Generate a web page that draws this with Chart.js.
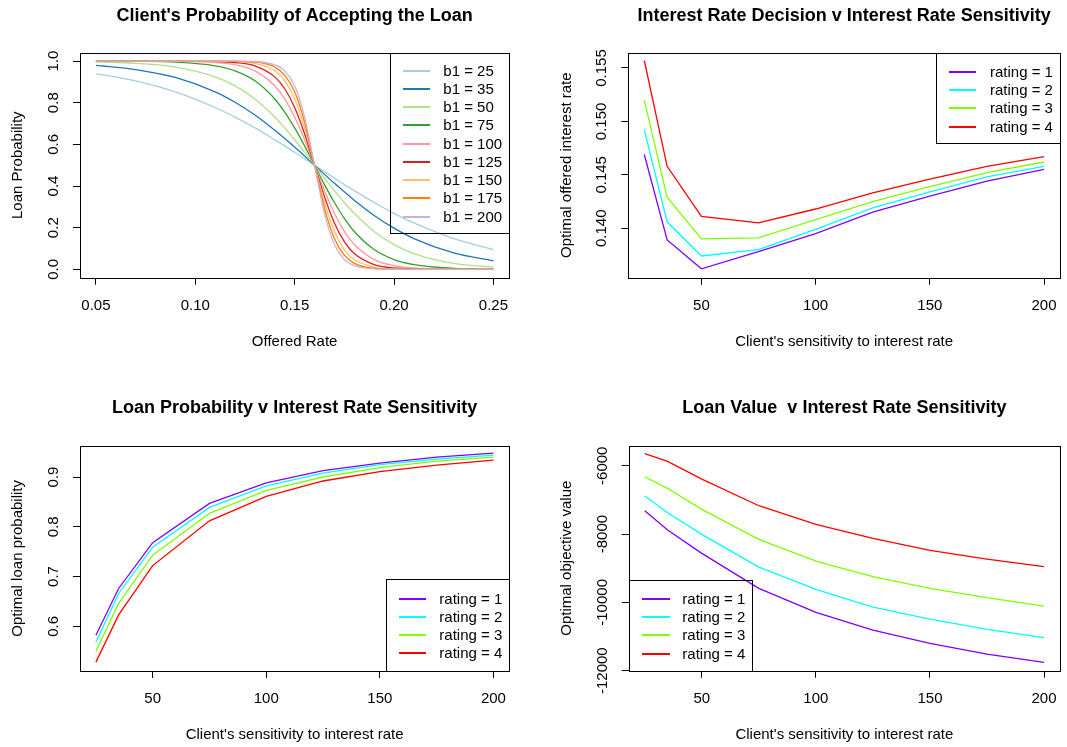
<!DOCTYPE html>
<html>
<head>
<meta charset="utf-8">
<title>Loan pricing panels</title>
<script src="https://cdn.jsdelivr.net/npm/chart.js@4.4.1/dist/chart.umd.min.js"></script>
<style>
    body { margin: 0; background: #fff; }
    #page { position: relative; width: 1067px; height: 747px; overflow: hidden; font-family: "Liberation Sans", Arial, Helvetica, sans-serif; }
    .panel { position: absolute; }
    .legend { position: absolute; border: 1px solid #000; box-sizing: border-box; }
    .legend .swatch { position: absolute; height: 2px; }
    .legend .label { position: absolute; font-size: 15px; line-height: 18px; color: #000; white-space: nowrap; }
</style>
</head>
<body>
<div id="page">
    <canvas id="acceptChart" class="panel" width="533" height="373" style="left:0;top:0"></canvas>
    <canvas id="decisionChart" class="panel" width="534" height="373" style="left:533px;top:0"></canvas>
    <canvas id="loanProbChart" class="panel" width="533" height="374" style="left:0;top:373px"></canvas>
    <canvas id="loanValueChart" class="panel" width="534" height="374" style="left:533px;top:373px"></canvas>
</div>
<script>
// Client acceptance curves (top left)
const offeredRate = [0.05, 0.07, 0.09, 0.11, 0.12, 0.13, 0.14, 0.145, 0.15, 0.155, 0.16, 0.165, 0.17, 0.175, 0.18, 0.19, 0.20, 0.21, 0.23, 0.25];
const b1Labels = ['b1 = 25', 'b1 = 35', 'b1 = 50', 'b1 = 75', 'b1 = 100', 'b1 = 125', 'b1 = 150', 'b1 = 175', 'b1 = 200'];
const b1Colors = ['#A6CEE3', '#1F78B4', '#B2DF8A', '#33A02C', '#FB9A99', '#E31A1C', '#FDBF6F', '#FF7F00', '#CAB2D6'];
const probB25 = [0.940, 0.905, 0.852, 0.777, 0.731, 0.679, 0.622, 0.593, 0.562, 0.531, 0.5, 0.469, 0.438, 0.407, 0.378, 0.321, 0.269, 0.223, 0.148, 0.095];
const probB35 = [0.979, 0.959, 0.921, 0.852, 0.802, 0.741, 0.668, 0.628, 0.587, 0.544, 0.5, 0.456, 0.413, 0.372, 0.332, 0.259, 0.198, 0.148, 0.079, 0.041];
const probB50 = [0.996, 0.989, 0.971, 0.924, 0.881, 0.818, 0.731, 0.679, 0.622, 0.562, 0.5, 0.438, 0.378, 0.321, 0.269, 0.182, 0.119, 0.076, 0.029, 0.011];
const probB75 = [1.000, 0.999, 0.995, 0.977, 0.953, 0.905, 0.818, 0.755, 0.679, 0.593, 0.5, 0.407, 0.321, 0.245, 0.182, 0.095, 0.047, 0.023, 0.005, 0.001];
const probB100 = [1.000, 1.000, 0.999, 0.993, 0.982, 0.953, 0.881, 0.818, 0.731, 0.622, 0.5, 0.378, 0.269, 0.182, 0.119, 0.047, 0.018, 0.007, 0.001, 0.000];
const probB125 = [1.000, 1.000, 1.000, 0.998, 0.993, 0.977, 0.924, 0.867, 0.777, 0.651, 0.5, 0.349, 0.223, 0.133, 0.076, 0.023, 0.007, 0.002, 0.000, 0.000];
const probB150 = [1.000, 1.000, 1.000, 0.999, 0.998, 0.989, 0.953, 0.905, 0.818, 0.679, 0.5, 0.321, 0.182, 0.095, 0.047, 0.011, 0.002, 0.001, 0.000, 0.000];
const probB175 = [1.000, 1.000, 1.000, 1.000, 0.999, 0.995, 0.971, 0.932, 0.852, 0.706, 0.5, 0.294, 0.148, 0.068, 0.029, 0.005, 0.001, 0.000, 0.000, 0.000];
const probB200 = [1.000, 1.000, 1.000, 1.000, 1.000, 0.998, 0.982, 0.953, 0.881, 0.731, 0.5, 0.269, 0.119, 0.047, 0.018, 0.002, 0.000, 0.000, 0.000, 0.000];

// Sensitivity panels (shared x values and rating series)
const sensitivity = [25, 35, 50, 75, 100, 125, 150, 175, 200];
const ratingLabels = ['rating = 1', 'rating = 2', 'rating = 3', 'rating = 4'];
const ratingColors = ['#8000FF', '#00FFFF', '#80FF00', '#FF0000'];

const rateRating1 = [0.1469, 0.1389, 0.1362, 0.1378, 0.1395, 0.1415, 0.1430, 0.1444, 0.1455];
const rateRating2 = [0.1492, 0.1406, 0.1374, 0.1380, 0.1399, 0.1419, 0.1434, 0.1448, 0.1458];
const rateRating3 = [0.1520, 0.1429, 0.1390, 0.1391, 0.1408, 0.1425, 0.1439, 0.1452, 0.1462];
const rateRating4 = [0.1557, 0.1458, 0.1411, 0.1405, 0.1418, 0.1433, 0.1446, 0.1458, 0.1467];

const probRating1 = [0.582, 0.676, 0.768, 0.847, 0.888, 0.913, 0.928, 0.940, 0.948];
const probRating2 = [0.568, 0.666, 0.759, 0.839, 0.882, 0.908, 0.925, 0.936, 0.944];
const probRating3 = [0.550, 0.646, 0.743, 0.827, 0.873, 0.900, 0.919, 0.932, 0.940];
const probRating4 = [0.528, 0.623, 0.722, 0.812, 0.861, 0.892, 0.911, 0.924, 0.934];

const valueRating1 = [-7317, -7883, -8566, -9590, -10293, -10810, -11200, -11512, -11756];
const valueRating2 = [-6888, -7376, -8010, -8966, -9620, -10137, -10488, -10790, -11034];
const valueRating3 = [-6322, -6663, -7278, -8156, -8790, -9249, -9590, -9863, -10107];
const valueRating4 = [-5649, -5873, -6390, -7171, -7717, -8127, -8478, -8732, -8956];

// Tick values
const rateTicks = [0.05, 0.10, 0.15, 0.20, 0.25];
const probTicks = [0.0, 0.2, 0.4, 0.6, 0.8, 1.0];
const sensTicks = [50, 100, 150, 200];
const decisionTicks = [0.140, 0.145, 0.150, 0.155];
const loanProbTicks = [0.6, 0.7, 0.8, 0.9];
const valueTicks = [-12000, -10000, -8000, -6000];

(function() {
    'use strict';

    const FONT = '"Liberation Sans", Arial, Helvetica, sans-serif';

    // R style box around the plot region
    const plotBox = {
        id: 'plotBox',
        afterDatasetsDraw(chart) {
            const a = chart.chartArea;
            const ctx = chart.ctx;
            ctx.save();
            ctx.strokeStyle = '#000';
            ctx.lineWidth = 1;
            ctx.strokeRect(Math.round(a.left) + 0.5, Math.round(a.top) + 0.5,
                Math.round(a.right) - Math.round(a.left), Math.round(a.bottom) - Math.round(a.top));
            ctx.restore();
        }
    };

    function fixedSize(size, horizontal) {
        return function(scale) {
            if (horizontal) scale.height = size;
            else scale.width = size;
            scale.paddingLeft = scale.paddingRight = scale.paddingTop = scale.paddingBottom = 0;
        };
    }

    function useTicks(values) {
        return function(scale) {
            scale.ticks = values.map(v => ({ value: v }));
        };
    }

    function series(xs, ys, label, color, i, smooth) {
        return {
            label: label,
            data: xs.map((x, k) => ({ x: x, y: ys[k] })),
            borderColor: color,
            borderWidth: 1.3,
            pointRadius: 0,
            fill: false,
            tension: smooth ? 0.4 : 0,
            cubicInterpolationMode: smooth ? 'monotone' : 'default',
            order: -i
        };
    }

    function makePanel(id, p) {
        const grid = { display: true, drawOnChartArea: false, drawTicks: true, tickLength: 7, color: '#000', lineWidth: 1 };
        return new Chart(document.getElementById(id), {
            type: 'line',
            data: { datasets: p.datasets },
            options: {
                responsive: false,
                animation: false,
                events: [],
                layout: { padding: { left: 0, right: p.padRight, top: 0, bottom: 0 } },
                plugins: {
                    legend: { display: false },
                    tooltip: { enabled: false },
                    title: {
                        display: true,
                        fullSize: false,
                        text: p.title,
                        color: '#000',
                        font: { family: FONT, size: 18, weight: 'bold', lineHeight: 1.2 },
                        padding: { top: p.titleTop, bottom: p.titleBottom }
                    }
                },
                scales: {
                    x: {
                        type: 'linear',
                        position: 'bottom',
                        min: p.xMin,
                        max: p.xMax,
                        afterBuildTicks: useTicks(p.xTicks),
                        afterFit: fixedSize(p.xHeight, true),
                        grid: grid,
                        border: { display: false },
                        ticks: {
                            autoSkip: false,
                            minRotation: 0,
                            maxRotation: 0,
                            padding: 12.3,
                            color: '#000',
                            font: { family: FONT, size: 15 },
                            callback: p.xFormat
                        },
                        title: {
                            display: true,
                            text: p.xTitle,
                            color: '#000',
                            font: { family: FONT, size: 15, lineHeight: 1.2 },
                            padding: { top: 0, bottom: p.xTitleBottom }
                        }
                    },
                    y: {
                        type: 'linear',
                        position: 'left',
                        min: p.yMin,
                        max: p.yMax,
                        afterBuildTicks: useTicks(p.yTicks),
                        afterFit: fixedSize(p.yWidth, false),
                        grid: grid,
                        border: { display: false },
                        ticks: {
                            autoSkip: false,
                            minRotation: 90,
                            maxRotation: 90,
                            crossAlign: 'center',
                            padding: p.yTickPad,
                            color: '#000',
                            font: { family: FONT, size: 15 },
                            callback: p.yFormat
                        },
                        title: {
                            display: true,
                            text: p.yTitle,
                            color: '#000',
                            font: { family: FONT, size: 15, lineHeight: 1.2 },
                            padding: { top: p.yTitleTop, bottom: 0 }
                        }
                    }
                }
            },
            plugins: [plotBox]
        });
    }

    // HTML legend box, built from the chart's datasets
    function addLegend(chart, colors, box) {
        const div = document.createElement('div');
        div.className = 'legend';
        div.style.left = box.left + 'px';
        div.style.top = box.top + 'px';
        div.style.width = (box.right - box.left) + 'px';
        div.style.height = (box.bottom - box.top) + 'px';
        chart.data.datasets.forEach(function(ds, i) {
            const cy = box.rowY + i * box.rowStep - box.top - 1;
            const line = document.createElement('div');
            line.className = 'swatch';
            line.style.left = Math.round(box.lineX0 - box.left - 1) + 'px';
            line.style.width = Math.round(box.lineX1 - box.lineX0) + 'px';
            line.style.top = Math.round(cy - 1) + 'px';
            line.style.backgroundColor = colors[i];
            const label = document.createElement('div');
            label.className = 'label';
            label.textContent = ds.label;
            label.style.left = (box.textX - box.left - 1) + 'px';
            label.style.top = (cy - 9) + 'px';
            div.appendChild(line);
            div.appendChild(label);
        });
        document.getElementById('page').appendChild(div);
    }

    const fmt = d => v => Number(v).toFixed(d);

    const b1Series = [probB25, probB35, probB50, probB75, probB100, probB125, probB150, probB175, probB200];
    const accept = makePanel('acceptChart', {
        title: "Client's Probability of Accepting the Loan",
        datasets: b1Series.map((ys, i) => series(offeredRate, ys, b1Labels[i], b1Colors[i], i, true)),
        xMin: 0.042, xMax: 0.258, yMin: -0.04, yMax: 1.04,
        xTicks: rateTicks, yTicks: probTicks, xFormat: fmt(2), yFormat: fmt(1),
        xTitle: 'Offered Rate', yTitle: 'Loan Probability',
        padRight: 23.7, titleTop: 5.2, titleBottom: 25.9,
        xHeight: 95.3, yWidth: 80, yTickPad: 8.6, yTitleTop: 9.3, xTitleBottom: 22.3
    });
    addLegend(accept, b1Colors, { left: 390, top: 53, right: 510, bottom: 234, lineX0: 403.3, lineX1: 430, textX: 443.3, rowY: 70.7, rowStep: 18.25 });

    const rateSeries = [rateRating1, rateRating2, rateRating3, rateRating4];
    const decision = makePanel('decisionChart', {
        title: 'Interest Rate Decision v Interest Rate Sensitivity',
        datasets: rateSeries.map((ys, i) => series(sensitivity, ys, ratingLabels[i], ratingColors[i], i, false)),
        xMin: 18, xMax: 207, yMin: 0.13537, yMax: 0.15643,
        xTicks: sensTicks, yTicks: decisionTicks, xFormat: fmt(0), yFormat: fmt(3),
        xTitle: "Client's sensitivity to interest rate", yTitle: 'Optimal offered interest rate',
        padRight: 7, titleTop: 5.2, titleBottom: 25.9,
        xHeight: 95.3, yWidth: 95.3, yTickPad: 0.3, yTitleTop: 24.7, xTitleBottom: 22.3
    });
    addLegend(decision, ratingColors, { left: 936, top: 53, right: 1061, bottom: 144, lineX0: 949.3, lineX1: 976.7, textX: 990, rowY: 71.7, rowStep: 18.33 });

    const probSeries = [probRating1, probRating2, probRating3, probRating4];
    const loanProb = makePanel('loanProbChart', {
        title: 'Loan Probability v Interest Rate Sensitivity',
        datasets: probSeries.map((ys, i) => series(sensitivity, ys, ratingLabels[i], ratingColors[i], i, false)),
        xMin: 18, xMax: 207, yMin: 0.5102, yMax: 0.9629,
        xTicks: sensTicks, yTicks: loanProbTicks, xFormat: fmt(0), yFormat: fmt(1),
        xTitle: "Client's sensitivity to interest rate", yTitle: 'Optimal loan probability',
        padRight: 23.7, titleTop: 24.5, titleBottom: 26.6,
        xHeight: 76, yWidth: 80, yTickPad: 8.6, yTitleTop: 9.3, xTitleBottom: 3
    });
    addLegend(loanProb, ratingColors, { left: 386, top: 579, right: 510, bottom: 672, lineX0: 399.3, lineX1: 426.7, textX: 439.3, rowY: 599, rowStep: 18.1 });

    const valueSeries = [valueRating1, valueRating2, valueRating3, valueRating4];
    const loanValue = makePanel('loanValueChart', {
        title: 'Loan Value  v Interest Rate Sensitivity',
        datasets: valueSeries.map((ys, i) => series(sensitivity, ys, ratingLabels[i], ratingColors[i], i, false)),
        xMin: 18, xMax: 207, yMin: -12000, yMax: -5414,
        xTicks: sensTicks, yTicks: valueTicks, xFormat: fmt(0), yFormat: v => String(v),
        xTitle: "Client's sensitivity to interest rate", yTitle: 'Optimal objective value',
        padRight: 7, titleTop: 24.5, titleBottom: 26.6,
        xHeight: 76.3, yWidth: 95.8, yTickPad: -4.4, yTitleTop: 24.7, xTitleBottom: 3
    });
    addLegend(loanValue, ratingColors, { left: 629, top: 580, right: 753, bottom: 672, lineX0: 641.7, lineX1: 670, textX: 682.3, rowY: 599, rowStep: 18.2 });
})();
</script>
</body>
</html>
